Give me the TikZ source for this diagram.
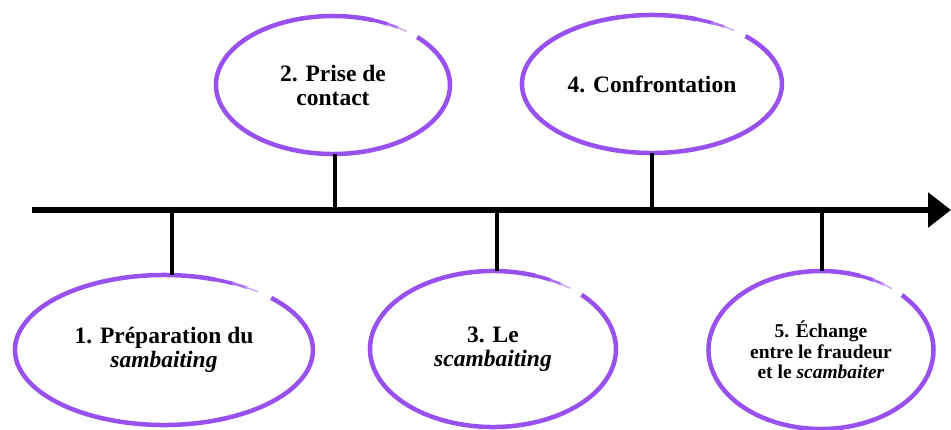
\documentclass[tikz,border=0pt]{standalone}
\usepackage{fontspec}
\setmainfont{Liberation Serif}
\usetikzlibrary{arrows.meta,shapes.geometric}
\definecolor{ringpurple}{RGB}{152,80,238}
\newcommand\taperring[3]{%
  \draw[ring] (#1.center) ++(-70:#2 and #3) arc[start angle=-70, delta angle=-334, x radius=#2, y radius=#3];
  \draw[ring, line width=3.6pt] (#1.center) ++(-62:#2 and #3) arc[start angle=-62, delta angle=-9, x radius=#2, y radius=#3];
  \draw[ring, line width=2.6pt, draw=ringpurple!80] (#1.center) ++(-56:#2 and #3) arc[start angle=-56, delta angle=-7, x radius=#2, y radius=#3];
  \draw[ring, line width=1.4pt, draw=ringpurple!50] (#1.center) ++(-51:#2 and #3) arc[start angle=-51, delta angle=-6, x radius=#2, y radius=#3];
}
\begin{document}
\begin{tikzpicture}[x=1pt,y=-1pt,
  stage/.style={shape=ellipse, draw=none, inner sep=0pt, align=center,
    font=\bfseries\fontsize{23.5}{24}\selectfont},
  smallstage/.style={stage, font=\bfseries\fontsize{19.5}{20.5}\selectfont},
  ring/.style={draw=ringpurple, line width=4.5pt},
  stem/.style={draw=black, line width=3.5pt},
  axisline/.style={draw=black, line width=6.5pt, -{Triangle[length=23pt,width=34pt]}}]
\useasboundingbox (0,0) rectangle (951,429);
% axis
\coordinate (start) at (32,210);
\coordinate (end) at (951,210);
\draw[axisline] (start) -- (end);
% stages
\node[stage, minimum width=298pt, minimum height=150pt] (e1) at (164,350) {1. Préparation du\\\textit{sambaiting}};
\node[stage, minimum width=234pt, minimum height=138pt] (e2) at (333,85) {2. Prise de\\contact};
\node[stage, minimum width=246pt, minimum height=156pt] (e3) at (493,349) {3. Le\\\textit{scambaiting}};
\node[stage, minimum width=260pt, minimum height=138pt] (e4) at (652,84) {4. Confrontation};
\node[smallstage, minimum width=225pt, minimum height=158pt] (e5) at (821,350) {5. Échange\\entre le fraudeur\\et le \textit{scambaiter}};
% rings with a small fading gap at top right
\taperring{e1}{149}{75}
\taperring{e2}{117}{69}
\taperring{e3}{123}{78}
\taperring{e4}{130}{69}
\taperring{e5}{112.5}{79}
% stems
\coordinate (a1) at (172,210);
\coordinate (a2) at (335,210);
\coordinate (a3) at (497,210);
\coordinate (a4) at (652,210);
\coordinate (a5) at (822,210);
\draw[stem] (a1) -- (a1 |- e1.north);
\draw[stem] (a2) -- (a2 |- e2.south);
\draw[stem] (a3) -- (a3 |- e3.north);
\draw[stem] (a4) -- (a4 |- e4.south);
\draw[stem] (a5) -- (a5 |- e5.north);
\end{tikzpicture}
\end{document}
